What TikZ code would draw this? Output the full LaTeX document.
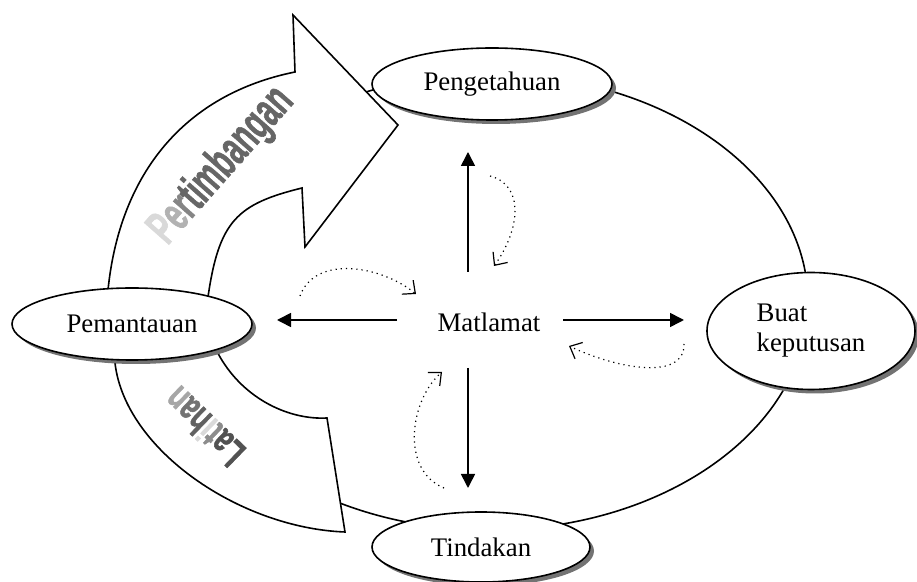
\documentclass[tikz,border=0pt]{standalone}
\usepackage{fontspec}
\setmainfont{Liberation Serif}
\newfontfamily\artfont{Liberation Sans}[BoldFeatures={FakeBold=1.5}]
\usetikzlibrary{arrows.meta,shadows,shapes.geometric}

\begin{document}
\begin{tikzpicture}[x=0.5pt, y=-0.5pt,
		stage/.style={ellipse, draw=black, line width=0.8pt, fill=white, inner sep=0pt,
			drop shadow={shadow xshift=2pt, shadow yshift=-2pt, fill=black!55, opacity=1},
			font=\fontsize{13.4}{15}\selectfont},
		mainarrow/.style={line width=0.8pt, -{Triangle[length=7pt, width=7pt]}},
		hintarrow/.style={dotted, line width=0.6pt, -{Straight Barb[length=5pt, width=9pt, line width=0.6pt]}},
		arttext/.style={font=\artfont\bfseries\fontsize{24}{24}\selectfont, text=black!65, xscale=0.6}]
	\useasboundingbox (0, 0) rectangle (917, 582);

	\draw[line width=0.8pt]	(490, 302) ellipse [x radius=318, y radius=228];

	\filldraw[fill=white, draw=black, line width=0.8pt]
		(345, 532) .. controls (240, 528) and (125, 450) .. (115, 363)
		.. controls (110, 330) .. (108, 290)
		.. controls (120, 172) and (186, 94) .. (295, 72)
		to (293, 15) to (398, 125) to (305, 247) to (302, 188)
		.. controls (237, 204) and (219, 221) .. (208, 297)
		.. controls (205, 330) .. (220, 357)
		.. controls (245, 400) and (290, 420) .. (327, 418)
		-- cycle;

	\node[rotate=48.5, arttext] (weigh) at (222, 166)
		{\color{black!15}P\color{black!30}e\color{black!48}r\color{black!60}timbangan};
	\node[rotate=136, arttext, font=\artfont\bfseries\fontsize{20}{20}\selectfont, xscale=1.1] (train) at (204, 427)
		{\color{black!68}La\color{black!45}t\color{black!15}i\color{black!62}h\color{black!55}a\color{black!35}n};

	\node[stage, minimum width=120pt, minimum height=36pt]	(peng) at (492, 84) {Pengetahuan};
	\node[stage, minimum width=120pt, minimum height=36pt]	(pem) at (132, 324) {Pemantauan};
	\node[stage, minimum width=104pt, minimum height=58.5pt, align=left]	(buat) at (811, 331) {Buat\\keputusan};
	\node[stage, minimum width=109pt, minimum height=35pt]	(tind) at (481, 547) {Tindakan};

	\node[font=\fontsize{13.4}{15}\selectfont]	(mat) at (489, 322) {Matlamat};

	\coordinate (upS) at (468, 272);	\coordinate (upE) at (468, 152);
	\coordinate (leftS) at (397, 320);	\coordinate (leftE) at (277, 320);
	\coordinate (rightS) at (563, 320);	\coordinate (rightE) at (684, 320);
	\coordinate (downS) at (468, 368);	\coordinate (downE) at (468, 488);

	\draw[mainarrow]	(upS) to (upE);
	\draw[mainarrow]	(leftS) to (leftE);
	\draw[mainarrow]	(rightS) to (rightE);
	\draw[mainarrow]	(downS) to (downE);

	\coordinate (hintA) at (490, 176);	\coordinate (hintB) at (494, 266);
	\coordinate (hintC) at (300, 296);	\coordinate (hintD) at (416, 294);
	\coordinate (hintE) at (684, 344);	\coordinate (hintF) at (569, 346);
	\coordinate (hintG) at (444, 488);	\coordinate (hintH) at (442, 372);

	\draw[hintarrow]	(hintA) .. controls (525, 185) and (520, 230) .. (hintB);
	\draw[hintarrow]	(hintC) .. controls (315, 255) and (380, 265) .. (hintD);
	\draw[hintarrow]	(hintE) .. controls (685, 380) and (620, 370) .. (hintF);
	\draw[hintarrow]	(hintG) .. controls (400, 470) and (410, 400) .. (hintH);
\end{tikzpicture}
\end{document}
